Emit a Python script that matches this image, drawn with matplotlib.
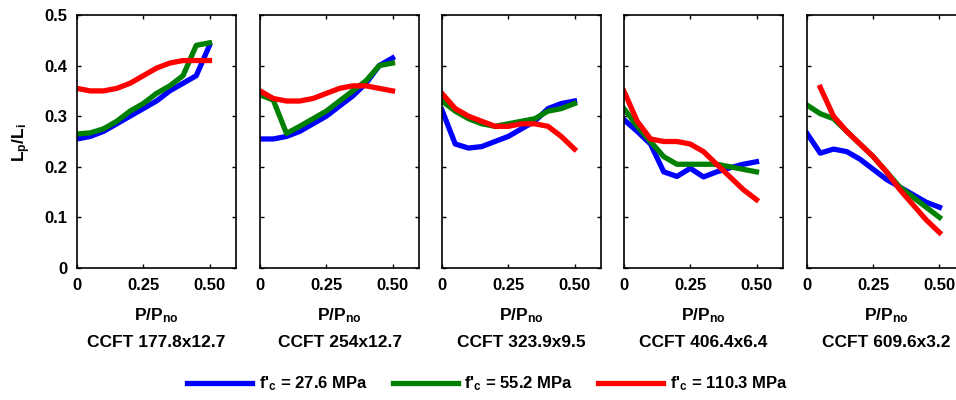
import matplotlib
matplotlib.use("Agg")
import matplotlib.pyplot as plt

plt.rcParams["font.family"] = ["Liberation Sans", "DejaVu Sans"]
plt.rcParams["font.weight"] = "bold"
plt.rcParams["mathtext.fontset"] = "custom"
plt.rcParams["mathtext.rm"] = "Liberation Sans:bold"
plt.rcParams["mathtext.it"] = "Liberation Sans:bold"
plt.rcParams["mathtext.bf"] = "Liberation Sans:bold"

# sections, one panel each
sections = ["CCFT 177.8x12.7", "CCFT 254x12.7", "CCFT 323.9x9.5",
            "CCFT 406.4x6.4", "CCFT 609.6x3.2"]
series_labels = ["f$'_c$ = 27.6 MPa", "f$'_c$ = 55.2 MPa", "f$'_c$ = 110.3 MPa"]
colors = ["#0000ff", "#008000", "#ff0000"]

# axial load ratio P/Pno
p_ratio = [0.0, 0.05, 0.10, 0.15, 0.20, 0.25, 0.30, 0.35, 0.40, 0.45, 0.50]

# Lp/Li, [section][series]
lp_177 = [
    [0.255, 0.26, 0.27, 0.285, 0.30, 0.315, 0.33, 0.35, 0.365, 0.38, 0.44],
    [0.265, 0.267, 0.275, 0.29, 0.31, 0.325, 0.345, 0.36, 0.38, 0.44, 0.445],
    [0.355, 0.35, 0.35, 0.355, 0.365, 0.38, 0.395, 0.405, 0.41, 0.41, 0.41],
]
lp_254 = [
    [0.255, 0.255, 0.26, 0.27, 0.285, 0.30, 0.32, 0.34, 0.365, 0.40, 0.415],
    [0.342, 0.332, 0.266, 0.28, 0.295, 0.31, 0.33, 0.35, 0.37, 0.40, 0.405],
    [0.35, 0.335, 0.33, 0.33, 0.335, 0.345, 0.355, 0.36, 0.36, 0.355, 0.35],
]
lp_323 = [
    [0.312, 0.245, 0.237, 0.24, 0.25, 0.26, 0.275, 0.29, 0.315, 0.325, 0.33],
    [0.33, 0.31, 0.295, 0.285, 0.28, 0.285, 0.29, 0.295, 0.31, 0.315, 0.325],
    [0.345, 0.315, 0.30, 0.29, 0.28, 0.28, 0.285, 0.285, 0.28, 0.26, 0.235],
]
lp_406 = [
    [0.293, 0.27, 0.245, 0.19, 0.181, 0.197, 0.18, 0.19, 0.198, 0.205, 0.21],
    [0.315, 0.28, 0.25, 0.22, 0.205, 0.205, 0.205, 0.205, 0.20, 0.195, 0.19],
    [0.349, 0.29, 0.255, 0.25, 0.25, 0.245, 0.23, 0.205, 0.18, 0.155, 0.135],
]
lp_609 = [
    [0.266, 0.227, 0.235, 0.23, 0.215, 0.195, 0.175, 0.16, 0.145, 0.13, 0.12],
    [0.322, 0.305, 0.295, 0.27, 0.245, 0.22, 0.19, 0.16, 0.14, 0.12, 0.10],
    [None, 0.357, 0.30, 0.27, 0.245, 0.22, 0.19, 0.155, 0.125, 0.095, 0.07],
]
panels = [lp_177, lp_254, lp_323, lp_406, lp_609]

fig = plt.figure(figsize=(9.56, 4.0), dpi=100)
lefts = [77, 260, 442, 624, 807]
w, h = 159 / 956, 253 / 400
bottom = 1 - 268 / 400

lines = []
for i, (name, data) in enumerate(zip(sections, panels)):
    ax = fig.add_axes([lefts[i] / 956, bottom, w, h])
    for vals, c in zip(data, colors):
        xs = [x for x, v in zip(p_ratio, vals) if v is not None]
        ys = [v for v in vals if v is not None]
        ln, = ax.plot(xs, ys, color=c, lw=3.8, solid_joinstyle="round")
        if i == 0:
            lines.append(ln)
    ax.set_xlim(0, 0.6)
    ax.set_ylim(0, 0.5)
    ax.set_xticks([0, 0.25, 0.5])
    ax.set_xticklabels(["0", "0.25", "0.50"])
    ax.set_yticks([0, 0.1, 0.2, 0.3, 0.4, 0.5])
    ax.tick_params(direction="in", top=True, right=True, length=3,
                   labelsize=12, pad=7, width=1)
    if i == 0:
        ax.set_yticklabels(["0", "0.1", "0.2", "0.3", "0.4", "0.5"])
    else:
        ax.set_yticklabels([])
    for s in ax.spines.values():
        s.set_linewidth(1.2)
    ax.text(0.5, -0.19, "P/P$_{no}$", transform=ax.transAxes,
            ha="center", va="center", fontsize=12.5, fontweight="bold")
    ax.text(0.5, -0.295, name, transform=ax.transAxes,
            ha="center", va="center", fontsize=12.5, fontweight="bold")

fig.text(0.023, 1 - 143 / 400, "L$_p$/L$_i$", rotation=90,
         ha="center", va="center", fontsize=12.5, fontweight="bold")

fig.legend(lines, series_labels, loc="center", bbox_to_anchor=(0.51, 0.04),
           ncol=3, frameon=False, fontsize=12, handlelength=3.9,
           columnspacing=1.5, handletextpad=0.4)

fig.savefig("out.png", dpi=100)
